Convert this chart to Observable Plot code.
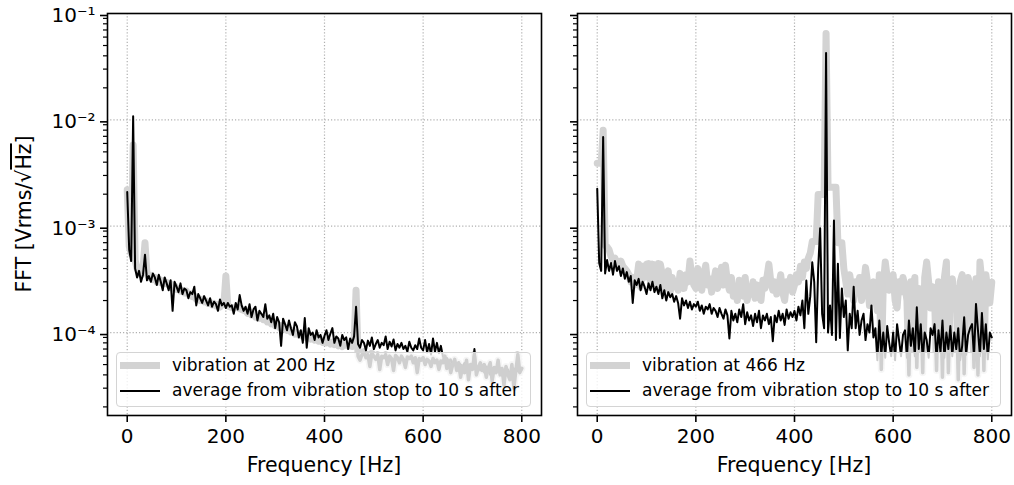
<!DOCTYPE html>
<html><head><meta charset="utf-8">
<script src="https://cdn.jsdelivr.net/npm/d3@7"></script>
<script src="https://cdn.jsdelivr.net/npm/@observablehq/plot@0.6"></script>
<style>
body{margin:0;background:#fff;}
#root{position:relative;width:1014px;height:485px;font-family:"DejaVu Sans";overflow:hidden;background:#fff}
.layer{position:absolute;top:0}
.layer text{font-size:20px !important;font-family:"DejaVu Sans" !important;fill:#000}
.legbg{position:absolute;box-sizing:border-box;border:1px solid #d4d4d4;border-radius:4px;background:rgba(255,255,255,0.8)}
.legtxt{position:absolute;font-size:17px;line-height:17px;white-space:nowrap;color:#000}
.hnd{position:absolute}
.xlab{position:absolute;font-size:20.5px;line-height:20px;white-space:nowrap;text-align:center;width:300px;color:#000}
.ylab{position:absolute;font-size:20.5px;line-height:24px;white-space:nowrap;text-align:center;width:300px;color:#000;transform:rotate(-90deg);transform-origin:150px 12px}
</style></head>
<body>
<div id="root"></div>
<script>
// Frequency grid of the spectra (Hz)
const freqHz = d3.range(0, 801, 4);
// All amplitudes below are in µVrms/√Hz
const UNIT = 1e-6;

// Left panel: vibration at 200 Hz (thick grey)
const leftGray = [
  2200, 650, 550, 5800, 480, 400, 370, 350, 400, 700,
  360, 330, 345, 315, 330, 300, 320, 295, 305, 290,
  295, 280, 285, 262, 275, 255, 260, 245, 250, 236,
  245, 228, 232, 218, 222, 206, 212, 200, 205, 194,
  198, 188, 192, 182, 188, 178, 184, 174, 182, 185,
  340, 178, 175, 172, 170, 172, 175, 168, 165, 162,
  162, 152, 156, 146, 150, 140, 146, 136, 140, 132,
  135, 126, 131, 121, 125, 116, 121, 112, 116, 109,
  112, 105, 108, 101, 104, 97, 100, 95, 98, 92,
  96, 89, 93, 87, 90, 85, 88, 83, 86, 81,
  85, 80, 83, 78, 81, 77, 80, 75, 78, 74,
  77, 76, 75, 75, 74, 80, 250, 60, 55, 62,
  66, 58, 62, 48, 64, 60, 56, 62, 45, 60,
  58, 62, 50, 60, 57, 44, 61, 58, 52, 60,
  56, 47, 59, 57, 60, 52, 58, 42, 57, 55,
  58, 50, 56, 54, 48, 57, 52, 55, 45, 54,
  52, 60, 46, 55, 42, 50, 56, 44, 52, 38,
  48, 42, 55, 36, 50, 45, 62, 40, 47, 52,
  44, 50, 38, 46, 52, 35, 47, 42, 55, 40,
  46, 32, 48, 40, 36, 50, 30, 44, 62, 42,
  46
];
// Left panel: average from vibration stop to 10 s after (black)
const leftBlack = [
  2100, 600, 470, 10800, 400, 330, 380, 300, 350, 540,
  310, 340, 300, 360, 330, 280, 350, 300, 250, 330,
  290, 250, 310, 160, 300, 270, 240, 290, 230, 260,
  250, 210, 240, 230, 270, 180, 230, 210, 190, 220,
  200, 180, 210, 175, 195, 185, 160, 205, 180, 190,
  170, 190, 175, 180, 150, 190, 165, 225, 180, 160,
  175, 150, 185, 140, 165, 175, 130, 160, 150, 140,
  185, 135, 145, 125, 150, 110, 140, 125, 75, 135,
  120, 105, 130, 110, 95, 125, 115, 90, 105, 80,
  137, 72, 110, 95, 100, 85, 105, 90, 95, 80,
  93, 105, 85, 98, 110, 80, 92, 88, 75, 95,
  85, 90, 70, 88, 80, 92, 175, 78, 72, 85,
  80, 68, 84, 75, 90, 70, 78, 85, 72, 80,
  76, 92, 70, 82, 74, 86, 68, 78, 72, 80,
  70, 75, 66, 82, 72, 68, 76, 70, 88, 72,
  68, 85, 65, 78, 62, 88, 66, 80, 64, 75,
  60, 55, 58, 52, 56, 50, 54, 48, 52, 50,
  48, 52, 46, 50, 44, 48, 70, 45, 48, 44,
  46, 42, 48, 44, 40, 45, 42, 47, 43, 45,
  42, 44, 40, 45, 41, 43, 46, 42, 44, 45,
  45
];
// Right panel: vibration at 466 Hz (thick grey)
const rightGray = [
  3900, 3900, 3900, 8000, 660, 640, 600, 520, 480, 500,
  450, 430, 470, 420, 400, 380, 350, 300, 330, 280,
  310, 440, 270, 420, 330, 440, 445, 300, 440, 430,
  280, 445, 440, 350, 260, 300, 380, 240, 330, 270,
  300, 250, 360, 320, 260, 350, 300, 470, 330, 280,
  260, 400, 300, 250, 350, 430, 280, 320, 240, 300,
  380, 260, 330, 410, 280, 430, 300, 250, 330, 220,
  270, 200, 310, 250, 220, 330, 200, 260, 230, 300,
  210, 280, 240, 200, 310, 260, 330, 440, 300, 250,
  300, 230, 270, 350, 240, 200, 300, 260, 330, 240,
  280, 350, 300, 420, 330, 460, 400, 500, 560, 718,
  718, 718, 1990, 1990, 1990, 1990, 65000, 2330, 2330, 2330,
  2330, 2330, 700, 700, 700, 400, 300, 230, 350, 260,
  200, 300, 240, 330, 200, 270, 410, 300, 180, 260,
  300, 220, 160, 350, 45, 280, 460, 330, 250, 300,
  350, 200, 170, 300, 240, 330, 270, 200, 40, 300,
  250, 330, 47, 260, 200, 42, 330, 460, 300, 170,
  270, 220, 44, 300, 240, 38, 330, 460, 42, 280,
  320, 200, 260, 36, 300, 350, 41, 240, 330, 270,
  190, 47, 320, 40, 460, 300, 44, 350, 250, 190,
  297
];
// Right panel: average from vibration stop to 10 s after (black)
const rightBlack = [
  2250, 450, 380, 6900, 360, 480, 380, 450, 350, 470,
  380, 420, 340, 400, 320, 370, 300, 340, 190, 310,
  280, 320, 250, 300, 270, 230, 290, 250, 300, 240,
  270, 230, 280, 210, 250, 200, 240, 215, 230, 195,
  220, 190, 135, 210, 180, 200, 170, 195, 165, 185,
  175, 195, 160, 180, 150, 175, 165, 185, 150, 170,
  160, 140, 170, 150, 135, 165, 145, 88, 160, 130,
  150, 125, 165, 140, 185, 120, 155, 130, 145, 115,
  150, 125, 160, 110, 145, 130, 150, 120, 140, 83,
  145, 125, 160, 130, 150, 118, 165, 135, 155, 140,
  160, 130, 175, 145, 200, 110, 308, 150, 220, 458,
  300, 81, 400, 957, 150, 110, 42600, 100, 180, 95,
  1130, 85, 443, 89, 260, 140, 200, 68, 150, 110,
  270, 110, 160, 95, 130, 150, 85, 120, 100, 180,
  90, 110, 55, 130, 62, 100, 58, 115, 80, 60,
  100, 55, 120, 85, 60, 95, 105, 58, 130, 75,
  110, 60, 173, 70, 120, 55, 100, 85, 58, 110,
  95, 120, 56, 105, 65, 130, 58, 100, 70, 115,
  60, 100, 70, 110, 55, 75, 139, 62, 95, 110,
  120, 58, 186, 105, 60, 153, 70, 120, 56, 100,
  90
];

const xTicks = [0, 200, 400, 600, 800];
const yMajor = [1e-4, 1e-3, 1e-2, 1e-1];
const yDomain = [1.66e-5, 0.1];
const xDomain = [-40, 840];
const yMinor = [];
for (let e = -5; e <= -2; e++) for (let k = 2; k <= 9; k++) { const v = k * Math.pow(10, e); if (v >= yDomain[0] && v < yDomain[1]) yMinor.push(v); }

const xLabel = "Frequency [Hz]";
const seriesLabels = {
  left: ["vibration at 200 Hz", "average from vibration stop to 10 s after"],
  right: ["vibration at 466 Hz", "average from vibration stop to 10 s after"]
};

const supMap = {"-": "\u207B", "0": "\u2070", "1": "\u00B9", "2": "\u00B2", "3": "\u00B3", "4": "\u2074", "5": "\u2075"};
const sup = v => "10" + String(Math.round(Math.log10(v))).replace(/./g, c => supMap[c]);

function rows(g, b) { return freqHz.map((f, i) => ({f, gray: g[i] * UNIT, black: b[i] * UNIT})); }

const GRID = {stroke: "#b0b0b0", strokeOpacity: 1, strokeWidth: 1.2, strokeDasharray: "1.2,2"};

function panel(data, width, ml, mr, showLabels) {
  return Plot.plot({
    width, height: 485, marginLeft: ml, marginRight: mr, marginTop: 13, marginBottom: 70,
    style: {fontFamily: '"DejaVu Sans"', fontSize: "20px", color: "#000", background: "transparent", overflow: "visible"},
    x: {type: "linear", domain: xDomain},
    y: {type: "log", domain: yDomain},
    marks: [
      Plot.gridX(xTicks, GRID),
      Plot.gridY(yMajor, GRID),
      Plot.line(data, {x: "f", y: "gray", stroke: "#d3d3d3", strokeWidth: 7, clip: true}),
      Plot.line(data, {x: "f", y: "black", stroke: "#000", strokeWidth: 2, clip: true}),
      Plot.axisX(xTicks, {tickSize: 7, tickPadding: 6, strokeWidth: 1.6, label: null, tickFormat: d => String(d)}),
      Plot.axisY(yMajor, {tickSize: 7, tickPadding: 5, strokeWidth: 1.6, dy: 2, label: null, tickFormat: showLabels ? sup : () => ""}),
      Plot.axisY(yMinor, {tickSize: 4, strokeWidth: 1.2, label: null, tickFormat: () => ""}),
      Plot.frame({stroke: "#000", strokeWidth: 1.6})
    ]
  });
}
function overlay(data, width, ml, mr) {
  return Plot.plot({
    width, height: 485, marginLeft: ml, marginRight: mr, marginTop: 13, marginBottom: 70,
    style: {background: "transparent"},
    x: {type: "linear", domain: xDomain, axis: null},
    y: {type: "log", domain: yDomain, axis: null},
    marks: [Plot.line(data, {x: "f", y: "gray", stroke: "#cfcfcf", strokeWidth: 3.5, clip: true})]
  });
}

const root = document.getElementById("root");
function addPanel(data, left, width, ml, mr, showLabels, labels, box) {
  const base = panel(data, width, ml, mr, showLabels);
  base.classList.add("layer"); base.style.left = left + "px";
  root.appendChild(base);
  const bg = document.createElement("div");
  bg.className = "legbg";
  Object.assign(bg.style, {left: box.x + "px", top: box.y + "px", width: box.w + "px", height: box.h + "px"});
  root.appendChild(bg);
  const ov = overlay(data, width, ml, mr);
  ov.classList.add("layer"); ov.style.left = left + "px";
  const l = box.x - left + 1, t = box.y + 1, r = width - (box.x - left + box.w) + 1, b = 485 - (box.y + box.h) + 1;
  ov.style.clipPath = `inset(${t}px ${r}px ${b}px ${l}px)`;
  root.appendChild(ov);
  const h1 = document.createElement("div"); h1.className = "hnd";
  Object.assign(h1.style, {left: (box.x + 4) + "px", top: (box.y + 10) + "px", width: "40px", height: "7px", background: "#d3d3d3"});
  const h2 = document.createElement("div"); h2.className = "hnd";
  Object.assign(h2.style, {left: (box.x + 4) + "px", top: (box.y + 38) + "px", width: "40px", height: "2px", background: "#000"});
  root.appendChild(h1); root.appendChild(h2);
  labels.forEach((s, i) => {
    const t = document.createElement("div"); t.className = "legtxt"; t.textContent = s;
    Object.assign(t.style, {left: (box.x + 56) + "px", top: (box.y + 5 + i * 24.5) + "px"});
    root.appendChild(t);
  });
  const xl = document.createElement("div"); xl.className = "xlab"; xl.textContent = xLabel;
  const cx = left + ml + (width - ml - mr) / 2;
  Object.assign(xl.style, {left: (cx - 150) + "px", top: "455px"});
  root.appendChild(xl);
}

addPanel(rows(leftGray, leftBlack), 0, 560, 107, 19, true, seriesLabels.left, {x: 116, y: 352, w: 415, h: 55});
addPanel(rows(rightGray, rightBlack), 560, 454, 17, 3, false, seriesLabels.right, {x: 586, y: 352, w: 415, h: 55});

const yl = document.createElement("div"); yl.className = "ylab";
yl.innerHTML = 'FFT [Vrms/\u221A<span style="text-decoration:overline">Hz</span>]';
Object.assign(yl.style, {left: (24 - 150) + "px", top: (214 - 12) + "px"});
root.appendChild(yl);
</script>
</body></html>
